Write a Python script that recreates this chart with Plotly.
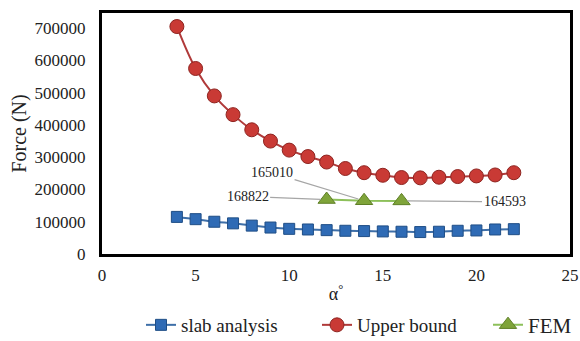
import plotly.graph_objects as go

alpha = [4, 5, 6, 7, 8, 9, 10, 11, 12, 13, 14, 15, 16, 17, 18, 19, 20, 21, 22]
slab = [115000, 108000, 100000, 95000, 88000, 82000, 78000, 76000, 74000, 72000,
        71000, 70000, 69000, 68000, 69000, 72000, 73000, 76000, 77000]
upper = [705000, 575000, 490000, 432000, 385000, 350000, 322000, 302000, 285000, 265000,
         252000, 244000, 237000, 236000, 238000, 240000, 242000, 245000, 252000]
fem_x = [12, 14, 16]
fem_y = [168822, 165010, 164593]
fem_labels = ["168822", "165010", "164593"]
label_offsets = [(-79, -3), (-92, -28), (103, 1)]

FONT = "Liberation Serif"

fig = go.Figure()
fig.add_trace(go.Scatter(x=alpha, y=slab, name="slab analysis", mode="lines+markers",
                         legend="legend",
                         line=dict(color="#3E6FA8", width=2, shape="spline"),
                         marker=dict(symbol="square", size=11, color="#2F6BB5",
                                     line=dict(color="#1F4E86", width=1))))
fig.add_trace(go.Scatter(x=alpha, y=upper, name="Upper bound", mode="lines+markers",
                         legend="legend2",
                         line=dict(color="#B03A3A", width=2, shape="spline"),
                         marker=dict(symbol="circle", size=14, color="#C93A35",
                                     line=dict(color="#8E2420", width=1))))
fig.add_trace(go.Scatter(x=fem_x, y=fem_y, name="FEM", mode="lines+markers",
                         legend="legend3",
                         line=dict(color="#8DC05A", width=2),
                         marker=dict(symbol="triangle-up", size=15, color="#7FA43A",
                                     line=dict(color="#5E7F26", width=1))))

for x, y, t, (ax, ay) in zip(fem_x, fem_y, fem_labels, label_offsets):
    fig.add_annotation(x=x, y=y, text=t, showarrow=True, arrowhead=0, arrowwidth=1.2,
                       arrowcolor="#A6A6A6", ax=ax, ay=ay, standoff=6,
                       font=dict(family=FONT, size=14, color="#222"))

def leg(xpx, size=19):
    return dict(orientation="h", xref="container", yref="container",
                x=xpx / 580, xanchor="left", y=1 - 325 / 341, yanchor="middle",
                font=dict(family=FONT, size=size), bgcolor="rgba(0,0,0,0)")

fig.update_layout(
    width=580, height=341,
    margin=dict(l=102, r=10, t=13, b=87, autoexpand=False),
    paper_bgcolor="white", plot_bgcolor="white",
    font=dict(family=FONT, color="#222"),
    showlegend=True,
    legend=leg(141), legend2=leg(317), legend3=leg(488, 21),
    xaxis=dict(range=[0, 25], dtick=5, showgrid=False, zeroline=False, automargin=False,
               showline=True, linecolor="black", linewidth=3, mirror=True,
               ticks="", tickfont=dict(family=FONT, size=17), ticklabelstandoff=4,
               title=dict(text="α<sup>°</sup>", font=dict(family=FONT, size=18), standoff=10)),
    yaxis=dict(range=[0, 747000], tickvals=[0, 100000, 200000, 300000, 400000, 500000, 600000, 700000],
               ticktext=["0", "100000", "200000", "300000", "400000", "500000", "600000", "700000"],
               showgrid=False, zeroline=False, automargin=False,
               showline=True, linecolor="black", linewidth=3, mirror=True,
               ticks="", tickfont=dict(family=FONT, size=17), ticklabelstandoff=10,
               title=dict(text="Force (N)", font=dict(family=FONT, size=20), standoff=3)),
)

fig.write_html("out.html")
